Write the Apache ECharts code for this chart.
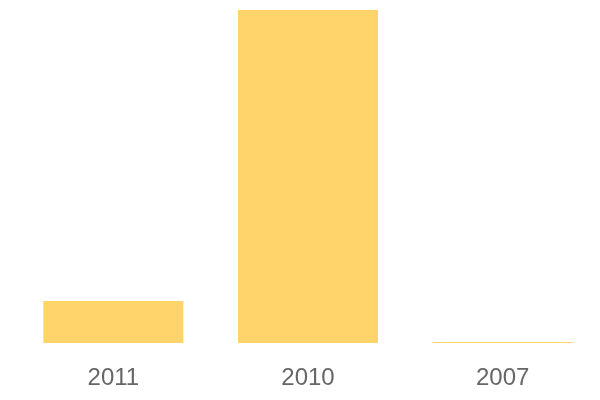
<!DOCTYPE html>
<html><head><meta charset="utf-8">
<script src="https://cdn.jsdelivr.net/npm/echarts@6/dist/echarts.min.js"></script>
<style>html,body{margin:0;padding:0;background:#fff}#c{width:600px;height:400px}</style>
</head><body><div id="c"></div>
<script>
var categories = ['2011', '2010', '2007'];
var values = [12.6, 100, 0.3];
var chart = echarts.init(document.getElementById('c'));
chart.setOption({
  animation: false,
  grid: { left: 16, right: 0, top: 10, bottom: 57 },
  xAxis: {
    type: 'category', data: categories,
    axisLine: { show: false }, axisTick: { show: false },
    axisLabel: { fontSize: 24, color: '#666', margin: 23, fontFamily: 'Liberation Sans' }
  },
  yAxis: { type: 'value', min: 0, max: 100, show: false, splitLine: { show: false } },
  series: [{
    type: 'bar', data: values, barWidth: 140,
    itemStyle: { color: '#FED46B' }
  }]
});
</script></body></html>
